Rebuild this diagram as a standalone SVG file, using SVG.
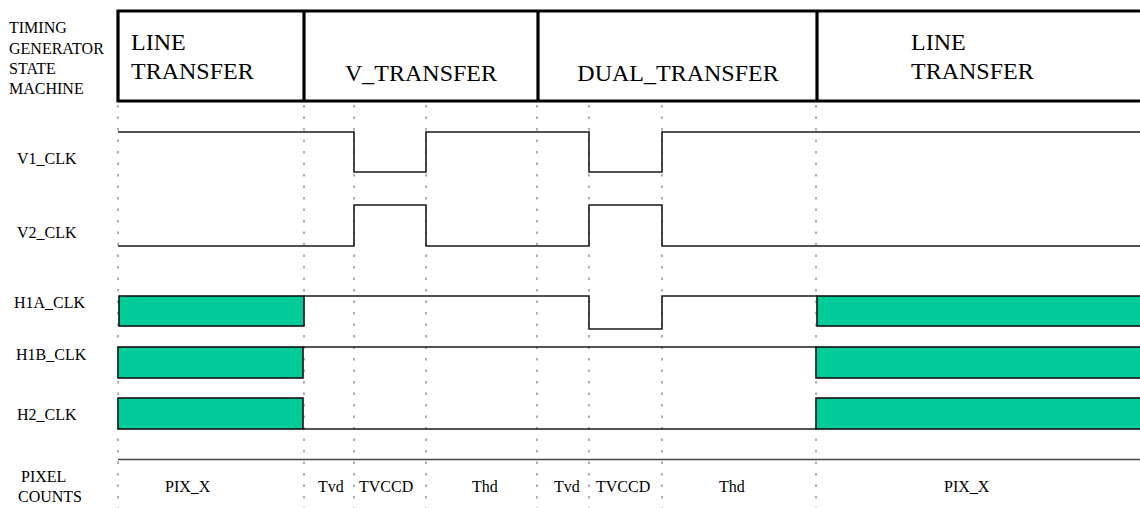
<svg xmlns="http://www.w3.org/2000/svg" width="1140" height="508" viewBox="0 0 1140 508">
<style>
text{font-family:"Liberation Serif","Times New Roman",serif;fill:#000}
.lbl{font-size:16px}
.hdr{font-size:24px}
.grid{stroke:#9a9a9a;stroke-width:1.6;stroke-dasharray:2.5 9;fill:none}
.sig{stroke:#1a1a1a;stroke-width:1.6;fill:none}
.bus{fill:#00CC99;stroke:#111;stroke-width:1.6}
.box{fill:none;stroke:#000;stroke-width:3.2}
</style>
<rect width="1140" height="508" fill="#fff"/>

<g id="grid">
<line class="grid" x1="118" y1="105" x2="118" y2="508"/>
<line class="grid" x1="304" y1="105" x2="304" y2="508"/>
<line class="grid" x1="354" y1="105" x2="354" y2="508"/>
<line class="grid" x1="426" y1="105" x2="426" y2="508"/>
<line class="grid" x1="537" y1="105" x2="537" y2="508"/>
<line class="grid" x1="589" y1="105" x2="589" y2="508"/>
<line class="grid" x1="662" y1="105" x2="662" y2="508"/>
<line class="grid" x1="816" y1="105" x2="816" y2="508"/>
</g>

<g id="state-machine">
<text class="lbl" x="9" y="33">TIMING</text>
<text class="lbl" x="9" y="54">GENERATOR</text>
<text class="lbl" x="9" y="74">STATE</text>
<text class="lbl" x="9" y="94">MACHINE</text>
<path class="box" d="M1145 11 H118 V101 H1145"/>
<line class="box" x1="304" y1="11" x2="304" y2="101"/>
<line class="box" x1="538" y1="11" x2="538" y2="101"/>
<line class="box" x1="817" y1="11" x2="817" y2="101"/>
<text class="hdr" x="131" y="50">LINE</text>
<text class="hdr" x="131" y="79">TRANSFER</text>
<text class="hdr" x="421" y="81" text-anchor="middle">V_TRANSFER</text>
<text class="hdr" x="678" y="81" text-anchor="middle">DUAL_TRANSFER</text>
<text class="hdr" x="911" y="50">LINE</text>
<text class="hdr" x="911" y="79">TRANSFER</text>
</g>

<g id="v1">
<text class="lbl" x="17" y="164">V1_CLK</text>
<path class="sig" d="M118 132 H354 V172 H426 V132 H589 V172 H662 V132 H1140"/>
</g>

<g id="v2">
<text class="lbl" x="17" y="238">V2_CLK</text>
<path class="sig" d="M118 246 H354 V205 H426 V246 H589 V205 H662 V246 H1140"/>
</g>

<g id="h1a">
<text class="lbl" x="14" y="308">H1A_CLK</text>
<rect class="bus" x="119" y="296" width="185" height="30"/>
<path class="sig" d="M304 296 H589 V329 H662 V296 H817"/>
<rect class="bus" x="817" y="296" width="330" height="30"/>
</g>

<g id="h1b">
<text class="lbl" x="16" y="360">H1B_CLK</text>
<rect class="bus" x="118" y="347" width="185" height="31"/>
<path class="sig" d="M303 347 H817"/>
<rect class="bus" x="816" y="347" width="330" height="31"/>
</g>

<g id="h2">
<text class="lbl" x="17" y="420">H2_CLK</text>
<rect class="bus" x="118" y="398" width="185" height="31"/>
<path class="sig" d="M303 429 H817"/>
<rect class="bus" x="816" y="398" width="330" height="31"/>
</g>

<g id="pixel-counts">
<line x1="118" y1="459.5" x2="1140" y2="459.5" stroke="#444" stroke-width="1.6"/>
<text class="lbl" x="21" y="482">PIXEL</text>
<text class="lbl" x="18" y="502">COUNTS</text>
<text class="lbl" x="165" y="492">PIX_X</text>
<text class="lbl" x="318" y="492">Tvd</text>
<text class="lbl" x="359" y="492">TVCCD</text>
<text class="lbl" x="472" y="492">Thd</text>
<text class="lbl" x="554" y="492">Tvd</text>
<text class="lbl" x="596" y="492">TVCCD</text>
<text class="lbl" x="719" y="492">Thd</text>
<text class="lbl" x="944" y="492">PIX_X</text>
</g>
</svg>
